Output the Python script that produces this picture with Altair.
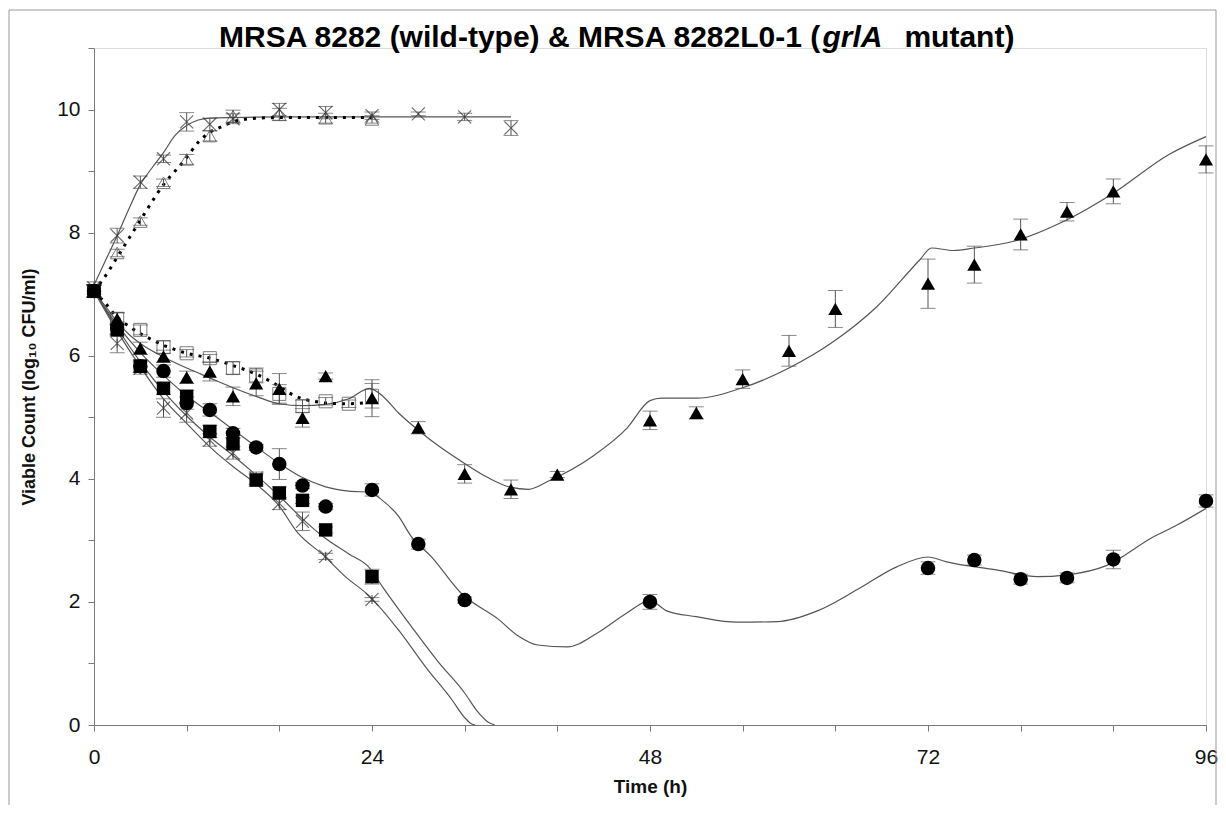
import altair as alt
import pandas as pd

# ---------------- data ----------------
# MRSA 8282 wild-type growth control (x markers, solid line)
wt_t = [0, 2, 4, 6, 8, 10, 12, 16, 20, 24, 28, 32, 36]
wt_v = [7.1, 7.95, 8.82, 9.2, 9.8, 9.76, 9.85, 10.0, 9.95, 9.9, 9.93, 9.88, 9.7]
wt_e = [0.1, 0.12, 0.1, 0.06, 0.15, 0.1, 0.08, 0.1, 0.1, 0.06, 0.03, 0.06, 0.12]
wt_fit_t = [0, 1, 2, 3, 4, 5, 6, 7, 8, 9, 10, 12, 16, 20, 24, 28, 32, 36]
wt_fit_v = [7.15, 7.55, 7.95, 8.38, 8.78, 9.05, 9.3, 9.58, 9.74, 9.83, 9.86, 9.87, 9.88, 9.88, 9.88, 9.88, 9.88, 9.88]

# grlA mutant growth control (open triangles, dotted line)
mu_t = [0, 2, 4, 6, 8, 10, 12, 16, 20, 24]
mu_v = [7.05, 7.67, 8.18, 8.81, 9.19, 9.57, 9.89, 9.92, 9.86, 9.84]
mu_e = [0.1, 0.06, 0.06, 0.06, 0.08, 0.08, 0.1, 0.1, 0.08, 0.06]
mu_fit_t = [0, 1, 2, 3, 4, 5, 6, 7, 8, 9, 10, 11, 12, 13, 14, 16, 20, 24]
mu_fit_v = [7.05, 7.3, 7.6, 7.9, 8.2, 8.5, 8.78, 9.0, 9.22, 9.47, 9.63, 9.72, 9.8, 9.84, 9.86, 9.87, 9.87, 9.87]

# open squares, dotted line
os_t = [0, 2, 4, 6, 8, 10, 12, 14, 16, 18, 20, 22, 24]
os_v = [7.05, 6.6, 6.42, 6.14, 6.04, 5.96, 5.8, 5.68, 5.38, 5.18, 5.26, 5.22, 5.35]
os_e = [0.1, 0.1, 0.08, 0.1, 0.06, 0.06, 0.1, 0.12, 0.15, 0.1, 0.06, 0.06, 0.2]
os_fit_t = [0, 1, 2, 3, 4, 5, 6, 7, 8, 10, 12, 14, 16, 17, 18, 19, 20, 22, 24]
os_fit_v = [7.05, 6.85, 6.62, 6.48, 6.36, 6.26, 6.17, 6.1, 6.04, 5.96, 5.84, 5.7, 5.5, 5.38, 5.3, 5.26, 5.23, 5.22, 5.25]

# filled triangles, solid line
ft_t = [0, 2, 4, 6, 8, 10, 12, 14, 16, 18, 20, 24, 28, 32, 36, 40, 48, 52, 56, 60, 64, 72, 76, 80, 84, 88, 96]
ft_v = [7.05, 6.6, 6.12, 5.99, 5.65, 5.74, 5.34, 5.55, 5.46, 4.99, 5.67, 5.31, 4.83, 4.08, 3.83, 4.07,
        4.95, 5.07, 5.62, 6.08, 6.76, 7.17, 7.48, 7.97, 8.34, 8.67, 9.19]
ft_e = [0.1, 0.1, 0.1, 0.1, 0.1, 0.15, 0.15, 0.2, 0.25, 0.15, 0.05, 0.3, 0.1, 0.15, 0.15, 0.05,
        0.15, 0.1, 0.15, 0.25, 0.3, 0.4, 0.3, 0.25, 0.15, 0.2, 0.22]
ft_fit_t = [0, 1, 2, 3, 4, 6, 8, 10, 12, 14, 16, 18, 20, 22, 23.8, 25, 26.3, 28, 30, 32, 34, 36, 37.5,
            39.2, 43, 46, 48, 49, 52, 56, 60, 64, 67.6, 71.3, 72.3, 74.2, 76, 79.4, 83.7, 88, 92.8, 96]
ft_fit_v = [7.05, 6.8, 6.55, 6.35, 6.2, 5.98, 5.8, 5.64, 5.48, 5.34, 5.22, 5.19, 5.21, 5.3, 5.47, 5.33,
            5.07, 4.79, 4.5, 4.25, 4.02, 3.86, 3.83, 3.96, 4.36, 4.82, 5.27, 5.31, 5.31, 5.48, 5.8,
            6.25, 6.8, 7.56, 7.75, 7.71, 7.75, 7.86, 8.18, 8.64, 9.27, 9.56]

# filled circles, solid line
fc_t = [0, 2, 4, 6, 8, 10, 12, 14, 16, 18, 20, 24, 28, 32, 48, 72, 76, 80, 84, 88, 96]
fc_v = [7.05, 6.45, 5.83, 5.75, 5.23, 5.12, 4.74, 4.51, 4.24, 3.89, 3.55, 3.82, 2.94, 2.03, 2.0,
        2.55, 2.68, 2.37, 2.39, 2.69, 3.64]
fc_e = [0.1, 0.1, 0.1, 0.1, 0.1, 0.1, 0.08, 0.05, 0.25, 0.05, 0.05, 0.1, 0.08, 0.05, 0.12,
        0.1, 0.08, 0.08, 0.08, 0.15, 0.1]
fc_fit_t = [0, 2, 4, 6, 8, 10, 12, 14, 16, 18, 20, 22, 24, 24.5, 26.3, 27.4, 29.1, 31.7, 34.9, 36.6,
            38.3, 40.9, 43.5, 46, 48, 49.5, 52, 55.5, 59, 62.4, 65.9, 69.3, 72, 73.6, 77.9, 81.4,
            84, 87.4, 91.4, 93.5, 96]
fc_fit_v = [7.05, 6.5, 6.05, 5.68, 5.35, 5.08, 4.8, 4.52, 4.25, 4.02, 3.87, 3.8, 3.78, 3.71, 3.39, 3.06,
            2.74, 2.14, 1.72, 1.45, 1.3, 1.27, 1.5, 1.82, 2.02, 1.85, 1.76, 1.67, 1.68, 1.85, 2.2,
            2.57, 2.73, 2.65, 2.52, 2.41, 2.44, 2.59, 3.05, 3.25, 3.52]

# filled squares, solid line
fs_t = [0, 2, 4, 6, 8, 10, 12, 14, 16, 18, 20, 24]
fs_v = [7.05, 6.42, 5.83, 5.47, 5.34, 4.77, 4.57, 3.98, 3.77, 3.65, 3.17, 2.41]
fs_e = [0.1, 0.1, 0.1, 0.1, 0.1, 0.1, 0.1, 0.1, 0.1, 0.05, 0.05, 0.12]
fs_fit_t = [0, 2, 4, 6, 8, 10, 12, 14, 16, 18, 20, 22, 23.8, 25, 27.4, 29.7, 32, 33.1, 34, 34.6]
fs_fit_v = [7.05, 6.45, 5.9, 5.42, 5.02, 4.68, 4.38, 4.06, 3.72, 3.35, 3.03, 2.78, 2.55, 2.22, 1.6,
            1.03, 0.52, 0.22, 0.05, 0.0]

# crosses, solid line
xc_t = [0, 2, 4, 6, 8, 10, 12, 14, 16, 18, 20, 24]
xc_v = [7.05, 6.2, 5.8, 5.15, 5.07, 4.63, 4.42, 4.01, 3.6, 3.31, 2.74, 2.04]
xc_e = [0.1, 0.15, 0.1, 0.15, 0.15, 0.1, 0.1, 0.1, 0.1, 0.15, 0.05, 0.03]
xc_fit_t = [0, 2, 4, 6, 8, 10, 12, 13.9, 15.9, 17.6, 19.8, 21.7, 23.8, 26.3, 28.6, 30.9, 32, 32.5, 32.9]
xc_fit_v = [7.05, 6.4, 5.82, 5.3, 4.9, 4.52, 4.2, 3.93, 3.58, 3.12, 2.76, 2.41, 2.09, 1.54, 0.95,
            0.41, 0.12, 0.03, 0.0]

x_ticks = [0, 8, 16, 24, 32, 40, 48, 56, 64, 72, 80, 88, 96]
y_ticks = [0, 1, 2, 3, 4, 5, 6, 7, 8, 9, 10, 11]

TITLE_LEFT = "MRSA 8282 (wild-type) & MRSA 8282L0-1 ("
TITLE_ITAL = "grlA"
TITLE_RIGHT = "mutant)"

# ---------------- tables ----------------
def pts(name, t, v, e):
    return pd.DataFrame({"t": t, "v": v, "lo": [a - b for a, b in zip(v, e)],
                         "hi": [a + b for a, b in zip(v, e)], "s": name})

def fit(name, t, v):
    return pd.DataFrame({"t": t, "v": v, "s": name})

P = {
    "wt": pts("wt", wt_t, wt_v, wt_e),
    "mu": pts("mu", mu_t, mu_v, mu_e),
    "os": pts("os", os_t, os_v, os_e),
    "ft": pts("ft", ft_t, ft_v, ft_e),
    "fc": pts("fc", fc_t, fc_v, fc_e),
    "fs": pts("fs", fs_t, fs_v, fs_e),
    "xc": pts("xc", xc_t, xc_v, xc_e),
}
all_pts = pd.concat(P.values(), ignore_index=True)
solid_fits = pd.concat([fit("wt", wt_fit_t, wt_fit_v), fit("ft", ft_fit_t, ft_fit_v),
                        fit("fc", fc_fit_t, fc_fit_v), fit("fs", fs_fit_t, fs_fit_v),
                        fit("xc", xc_fit_t, xc_fit_v)], ignore_index=True)
dotted_fits = pd.concat([fit("mu", mu_fit_t, mu_fit_v), fit("os", os_fit_t, os_fit_v)],
                        ignore_index=True)

FONT = "Liberation Sans, Arial, sans-serif"
NARROW = "Liberation Sans Narrow, Liberation Sans, Arial, sans-serif"
AX = "#7a7a7a"

x_axis = alt.Axis(values=x_ticks, labelExpr="datum.value % 24 === 0 ? datum.label : ''",
                  format="d", title="Time (h)", grid=False, domainColor=AX, tickColor=AX, tickSize=6,
                  labelFont=NARROW, labelFontSize=21, labelColor="#111", labelPadding=15,
                  titleFont=FONT, titleFontSize=19, titleFontWeight="bold", titleColor="#111",
                  titlePadding=10, labelFlush=False)
y_axis = alt.Axis(values=y_ticks, format="d",
                  labelExpr="(datum.value % 2 === 0 && datum.value <= 10) ? datum.label : ''",
                  title="Viable Count (log\u2081\u2080 CFU/ml)", grid=False, domainColor=AX,
                  tickColor=AX, tickSize=6, labelFont=NARROW, labelFontSize=21, labelColor="#111",
                  labelPadding=8, titleFont=FONT, titleFontSize=18, titleFontWeight="bold",
                  titleColor="#111", titlePadding=18)

XS = alt.Scale(domain=[0, 96], nice=False, zero=False)
YS = alt.Scale(domain=[0, 11], nice=False)
X = alt.X("t:Q", scale=XS, axis=x_axis)

def Yf(field):
    return alt.Y(field, scale=YS, axis=y_axis)

solid = alt.Chart(solid_fits).mark_line(color="#555", strokeWidth=1.2, interpolate="monotone").encode(
    x=X, y=Yf("v:Q"), detail="s:N")
dotted = alt.Chart(dotted_fits).mark_line(color="#000", strokeWidth=3, strokeDash=[3, 6],
                                          interpolate="monotone").encode(x=X, y=Yf("v:Q"), detail="s:N")

err_rule = alt.Chart(all_pts).mark_rule(color="#555", strokeWidth=1).encode(
    x=X, y=Yf("lo:Q"), y2="hi:Q")
err_cap_lo = alt.Chart(all_pts).mark_tick(color="#555", thickness=1, size=15, orient="horizontal").encode(
    x=X, y=Yf("lo:Q"))
err_cap_hi = alt.Chart(all_pts).mark_tick(color="#555", thickness=1, size=15, orient="horizontal").encode(
    x=X, y=Yf("hi:Q"))

XSHAPE = "M-1,-1L1,1M-1,1L1,-1"
ASTER = "M-1,-1L1,1M-1,1L1,-1M0,-0.7L0,0.7"

def markers(key, **kw):
    return alt.Chart(P[key]).mark_point(**kw).encode(x=X, y=Yf("v:Q"))

m_wt = markers("wt", shape=XSHAPE, size=170, stroke="#333", strokeWidth=1.2, filled=False)
m_mu = markers("mu", shape="triangle-up", size=180, stroke="#444", strokeWidth=1, filled=False)
m_os = markers("os", shape="square", size=170, stroke="#444", strokeWidth=1, filled=False)
m_ft = markers("ft", shape="triangle-up", size=200, color="#000", filled=True, opacity=1)
m_fc = markers("fc", shape="circle", size=210, color="#000", filled=True, opacity=1)
m_fs = markers("fs", shape="square", size=180, color="#000", filled=True, opacity=1)
m_xc = markers("xc", shape=ASTER, size=170, stroke="#333", strokeWidth=1.2, filled=False)

# title pieces (left part, italic gene name, right part)
FS = 30
left_w = 20.115 * FS
ital_w = 2.0 * FS
total_w = 26.6 * FS
x0 = 524 - total_w / 2
t1 = alt.Chart(pd.DataFrame({"txt": [TITLE_LEFT]})).mark_text(
    font=FONT, fontSize=FS, fontWeight="bold", align="left", baseline="alphabetic", color="#000").encode(
    x=alt.value(x0), y=alt.value(-1), text="txt:N")
t2 = alt.Chart(pd.DataFrame({"txt": [TITLE_ITAL]})).mark_text(
    font=FONT, fontSize=FS, fontWeight="bold", fontStyle="italic", align="left", baseline="alphabetic",
    color="#000").encode(x=alt.value(x0 + left_w), y=alt.value(-1), text="txt:N")
t3 = alt.Chart(pd.DataFrame({"txt": [TITLE_RIGHT]})).mark_text(
    font=FONT, fontSize=FS, fontWeight="bold", align="left", baseline="alphabetic", color="#000").encode(
    x=alt.value(x0 + left_w + ital_w + 22), y=alt.value(-1), text="txt:N")

border = alt.Chart(pd.DataFrame({"a": [0]})).mark_rect(fillOpacity=0, stroke="#999", strokeWidth=1).encode(
    x=alt.value(-85), x2=alt.value(1122), y=alt.value(-38), y2=alt.value(800))

chart = alt.layer(
    solid, dotted, err_rule, err_cap_lo, err_cap_hi,
    m_os, m_mu, m_wt, m_xc, m_fs, m_fc, m_ft,
    t1, t2, t3, border,
).properties(
    width=1112, height=677,
    autosize=alt.AutoSizeParams(type="none"),
    padding={"left": 86, "top": 40, "right": 12, "bottom": 80},
).configure_view(stroke=None).configure(background="white")

chart.save("out.html", embed_options={"renderer": "svg", "actions": False})
